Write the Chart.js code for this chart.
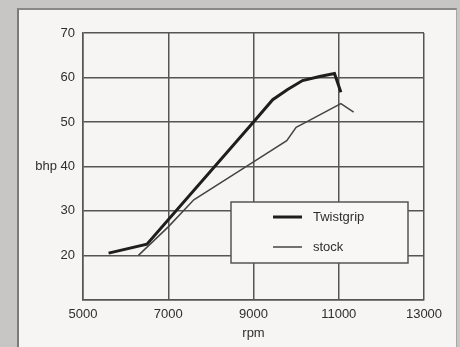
<!DOCTYPE html>
<html>
<head>
<meta charset="utf-8">
<script src="https://cdn.jsdelivr.net/npm/chart.js@4"></script>
<style>
  html, body { margin: 0; padding: 0; }
  body { width: 460px; height: 347px; background: #c8c6c4; position: relative; overflow: hidden; }
  #panel {
    position: absolute; left: 17px; top: 8px; width: 437px; height: 345px;
    background: #f6f5f3; border-left: 2px solid #7d7b79; border-top: 2px solid #8a8886;
    border-right: 1px solid #a9a7a5;
  }
  #wrap { position: absolute; left: 0; top: 0; width: 460px; height: 347px; }
</style>
</head>
<body>
<div id="panel"></div>
<div id="wrap"><canvas id="chart"></canvas></div>
<script>
// --- data ---
const twistRpm = [5600, 6500, 9000, 9450, 9800, 10150, 10550, 10900, 11050];
const twistBhp = [20.5, 22.5, 50, 55, 57.3, 59.3, 60.2, 60.9, 56.7];
const stockRpm = [6300, 7000, 7600, 9000, 9780, 10000, 10300, 11050, 11350];
const stockBhp = [20, 26.4, 32.5, 41, 45.8, 48.8, 50.3, 54.1, 52.2];
const seriesNames = ['Twistgrip', 'stock'];
const xTicks = [5000, 7000, 9000, 11000, 13000];
const yTicks = [10, 20, 30, 40, 50, 60, 70];

const ink = '#2e2e2e';
const gridInk = '#555';
const face = '"Liberation Sans", Arial, sans-serif';

function toPoints(xs, ys) {
    return xs.map((x, i) => ({ x: x, y: ys[i] }));
}

// legend box drawn inside the plot, like the printed chart
const boxLegend = {
    id: 'boxLegend',
    afterDatasetsDraw(chart) {
        const ctx = chart.ctx;
        const x0 = 231, y0 = 202, w = 177, h = 61;
        ctx.save();
        ctx.fillStyle = '#f8f7f5';
        ctx.fillRect(x0, y0, w, h);
        ctx.strokeStyle = gridInk;
        ctx.lineWidth = 1.5;
        ctx.strokeRect(x0, y0, w, h);
        ctx.font = '13px ' + face;
        ctx.textBaseline = 'middle';
        chart.data.datasets.forEach((ds, i) => {
            const ly = y0 + 15 + i * 30;
            ctx.beginPath();
            ctx.strokeStyle = ds.borderColor;
            ctx.lineWidth = ds.borderWidth;
            ctx.moveTo(x0 + 42, ly);
            ctx.lineTo(x0 + 71, ly);
            ctx.stroke();
            ctx.fillStyle = ink;
            ctx.fillText(ds.label, x0 + 82, ly);
        });
        ctx.restore();
    }
};

new Chart(document.getElementById('chart'), {
    type: 'line',
    data: {
        datasets: [
            {
                label: seriesNames[0],
                data: toPoints(twistRpm, twistBhp),
                borderColor: '#1e1e1e',
                borderWidth: 3,
                pointRadius: 0,
                tension: 0
            },
            {
                label: seriesNames[1],
                data: toPoints(stockRpm, stockBhp),
                borderColor: '#444',
                borderWidth: 1.5,
                pointRadius: 0,
                tension: 0
            }
        ]
    },
    options: {
        responsive: true,
        maintainAspectRatio: false,
        animation: false,
        layout: { padding: { top: 33, right: 36, left: 0, bottom: 6 } },
        plugins: { legend: { display: false }, tooltip: { enabled: false } },
        scales: {
            x: {
                type: 'linear',
                min: 5000,
                max: 13000,
                afterBuildTicks: (scale) => { scale.ticks = xTicks.map(v => ({ value: v })); },
                grid: { color: gridInk, lineWidth: 1.5, drawTicks: false },
                border: { color: gridInk, width: 1.5 },
                ticks: {
                    color: ink,
                    padding: 7,
                    maxRotation: 0,
                    font: { family: face, size: 13 },
                    callback: (v) => String(v)
                },
                title: {
                    display: true,
                    text: 'rpm',
                    color: ink,
                    padding: { top: -4, bottom: 0 },
                    font: { family: face, size: 13 }
                }
            },
            y: {
                min: 10,
                max: 70,
                afterBuildTicks: (scale) => { scale.ticks = yTicks.map(v => ({ value: v })); },
                afterFit: (scale) => { scale.width = 83; },
                grid: { color: gridInk, lineWidth: 1.5, drawTicks: false },
                border: { color: gridInk, width: 1.5 },
                ticks: {
                    color: ink,
                    padding: 8,
                    font: { family: face, size: 13 },
                    callback: (v) => v === 10 ? '' : (v === 40 ? 'bhp 40' : String(v))
                }
            }
        }
    },
    plugins: [boxLegend]
});
</script>
</body>
</html>
